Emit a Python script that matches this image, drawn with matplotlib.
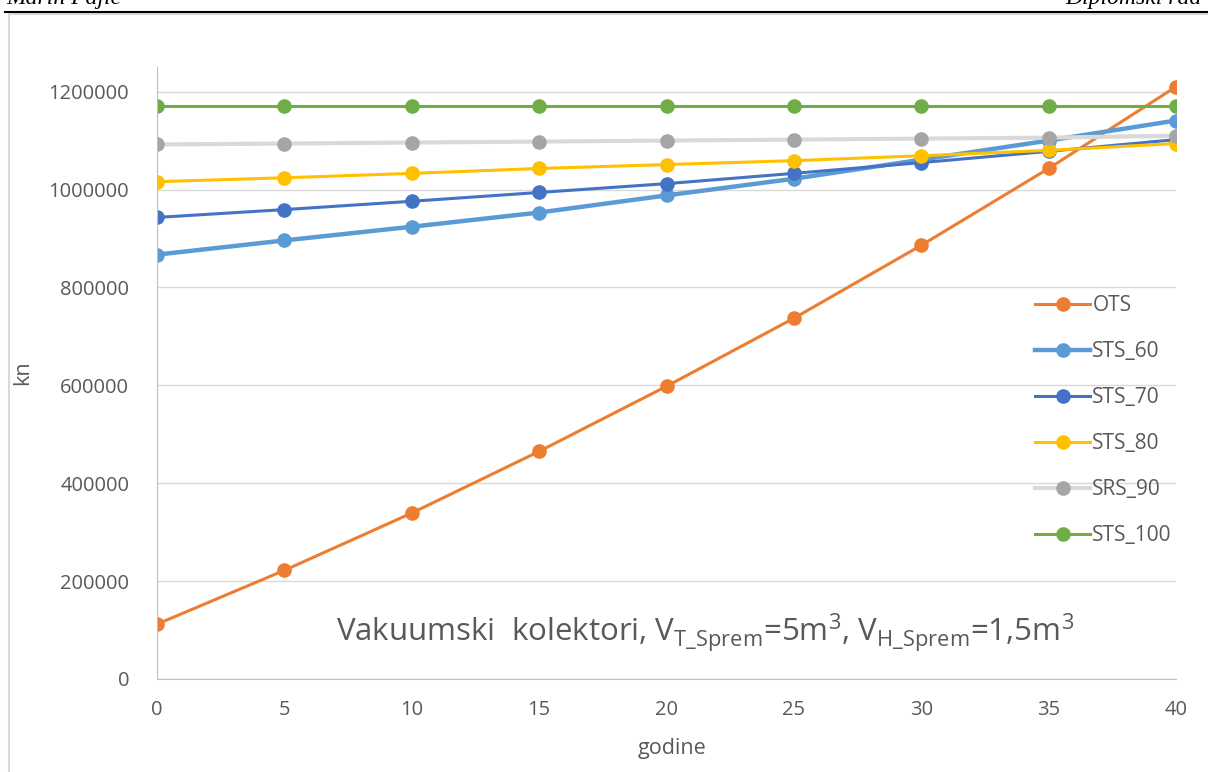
import matplotlib.pyplot as plt
from matplotlib.patches import Rectangle
from matplotlib.lines import Line2D

plt.rcParams['font.family'] = ['Open Sans', 'DejaVu Sans']
plt.rcParams['mathtext.fontset'] = 'custom'
plt.rcParams['mathtext.rm'] = 'Open Sans'

godine = [0, 5, 10, 15, 20, 25, 30, 35, 40]
ots = [112000, 222000, 339000, 465000, 598000, 737000, 886000, 1043000, 1210000]
sts_60 = [867000, 896000, 924000, 953000, 988000, 1022000, 1061000, 1100000, 1141000]
sts_70 = [943000, 959000, 976000, 994000, 1012000, 1033000, 1055000, 1078000, 1102000]
sts_80 = [1016000, 1024000, 1033000, 1043000, 1051000, 1059000, 1069000, 1080000, 1094000]
srs_90 = [1092000, 1094000, 1096000, 1098000, 1100000, 1102000, 1104000, 1106000, 1110000]
sts_100 = [1171000] * 9

# name, values, line colour, marker colour, line width
series = [
    ('OTS', ots, '#ED7D31', '#ED7D31', 2.2),
    ('STS_60', sts_60, '#5B9BD5', '#5B9BD5', 3.2),
    ('STS_70', sts_70, '#4472C4', '#4472C4', 2.2),
    ('STS_80', sts_80, '#FFC000', '#FFC000', 2.2),
    ('SRS_90', srs_90, '#D9D9D9', '#A5A5A5', 3.0),
    ('STS_100', sts_100, '#70AD47', '#70AD47', 2.2),
]

fig = plt.figure(figsize=(12.08, 7.72), dpi=100)
ax = fig.add_axes([0.130, 0.1205, 0.8435, 0.7925])

handles = []
for name, vals, lc, mc, lw in series:
    ax.plot(godine, vals, color=lc, lw=lw, marker='o', markersize=9.5,
            markerfacecolor=mc, markeredgecolor=mc, solid_capstyle='round')
    handles.append(Line2D([0], [0], color=lc, lw=lw, marker='o', markersize=9.5,
                          markerfacecolor=mc, markeredgecolor=mc))

ax.set_xlim(0, 40)
ax.set_ylim(0, 1250000)
ax.set_xticks(godine)
ax.set_yticks(range(0, 1200001, 200000))
ax.set_yticklabels([str(v) for v in range(0, 1200001, 200000)])
ax.grid(axis='y', color='#D9D9D9', lw=1)
ax.set_axisbelow(True)
for s in ['top', 'right']:
    ax.spines[s].set_visible(False)
for s in ['left', 'bottom']:
    ax.spines[s].set_color('#BFBFBF')
ax.tick_params(length=0, labelsize=14.5, labelcolor='#595959')
ax.tick_params(axis='x', pad=15)
ax.tick_params(axis='y', pad=20)
ax.set_xlabel('godine', fontsize=15.5, color='#595959')
ax.set_ylabel('kn', fontsize=15.5, color='#595959')
ax.xaxis.set_label_coords(0.505, -0.097)
ax.yaxis.set_label_coords(-0.122, 0.5)

ax.text(21.5, 94000,
        r'Vakuumski  kolektori, V$\mathregular{_{T\_Sprem}}$=5m$\mathregular{^3}$, '
        r'V$\mathregular{_{H\_Sprem}}$=1,5m$\mathregular{^3}$',
        fontsize=22.5, color='#595959', ha='center', va='center')

ax.legend(handles, [s[0] for s in series], loc='upper left',
          bbox_to_anchor=(0.8616, 0.627), frameon=False, fontsize=15,
          labelcolor='#595959', handlelength=2.65, handletextpad=0.1,
          labelspacing=1.2, borderaxespad=0, borderpad=0)

# page header and chart frame
fig.text(0.005, 1 - 4 / 772, 'Marin Pajić', family='Liberation Serif',
         style='italic', fontsize=17, va='baseline')
fig.text(0.995, 1 - 4 / 772, 'Diplomski rad', family='Liberation Serif',
         style='italic', fontsize=17, va='baseline', ha='right')
fig.add_artist(Line2D([5 / 1208, 1], [1 - 12 / 772] * 2, color='black', lw=1.5))
fig.add_artist(Rectangle((9 / 1208, -0.01), 1.2, 1 - 14 / 772 + 0.01,
                         fill=False, edgecolor='#D9D9D9', lw=1.5))

fig.savefig('out.png', dpi=100)
